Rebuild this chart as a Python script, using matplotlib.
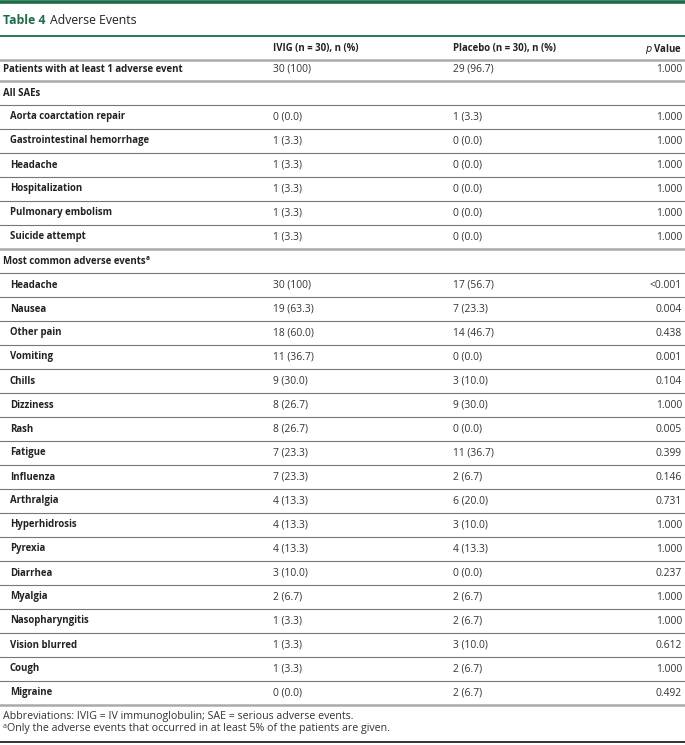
import matplotlib
matplotlib.use("Agg")
import matplotlib.pyplot as plt

plt.rcParams['font.family'] = ['Open Sans', 'DejaVu Sans']

# table contents
col_headers = ["IVIG (n = 30), n (%)", "Placebo (n = 30), n (%)"]
labels = ["Patients with at least 1 adverse event", "All SAEs",
          "Aorta coarctation repair", "Gastrointestinal hemorrhage", "Headache",
          "Hospitalization", "Pulmonary embolism", "Suicide attempt",
          "Most common adverse events",
          "Headache", "Nausea", "Other pain", "Vomiting", "Chills", "Dizziness",
          "Rash", "Fatigue", "Influenza", "Arthralgia", "Hyperhidrosis", "Pyrexia",
          "Diarrhea", "Myalgia", "Nasopharyngitis", "Vision blurred", "Cough",
          "Migraine"]
indent = [0, 0, 1, 1, 1, 1, 1, 1, 0] + [1] * 18
ivig = ["30 (100)", "", "0 (0.0)", "1 (3.3)", "1 (3.3)", "1 (3.3)", "1 (3.3)", "1 (3.3)", "",
        "30 (100)", "19 (63.3)", "18 (60.0)", "11 (36.7)", "9 (30.0)", "8 (26.7)",
        "8 (26.7)", "7 (23.3)", "7 (23.3)", "4 (13.3)", "4 (13.3)", "4 (13.3)",
        "3 (10.0)", "2 (6.7)", "1 (3.3)", "1 (3.3)", "1 (3.3)", "0 (0.0)"]
placebo = ["29 (96.7)", "", "1 (3.3)", "0 (0.0)", "0 (0.0)", "0 (0.0)", "0 (0.0)", "0 (0.0)", "",
           "17 (56.7)", "7 (23.3)", "14 (46.7)", "0 (0.0)", "3 (10.0)", "9 (30.0)",
           "0 (0.0)", "11 (36.7)", "2 (6.7)", "6 (20.0)", "3 (10.0)", "4 (13.3)",
           "0 (0.0)", "2 (6.7)", "2 (6.7)", "3 (10.0)", "2 (6.7)", "2 (6.7)"]
pvals = ["1.000", "", "1.000", "1.000", "1.000", "1.000", "1.000", "1.000", "",
         "<0.001", "0.004", "0.438", "0.001", "0.104", "1.000", "0.005", "0.399",
         "0.146", "0.731", "1.000", "1.000", "0.237", "1.000", "1.000", "0.612",
         "1.000", "0.492"]
footnotes = ["Abbreviations: IVIG = IV immunoglobulin; SAE = serious adverse events.",
             "Only the adverse events that occurred in at least 5% of the patients are given."]

green = "#1e6b4a"
W, H = 685, 745
fig = plt.figure(figsize=(W / 100, H / 100), dpi=100)
ax = fig.add_axes([0, 0, 1, 1])
ax.set_xlim(0, W)
ax.set_ylim(H, 0)
ax.axis("off")
renderer = fig.canvas.get_renderer()

def right_edge(t):
    # x (in data px) where a text object ends
    bb = t.get_window_extent(renderer=renderer)
    return bb.x1

fs = 7.4      # regular cells
fsb = 6.9     # bold labels
# top bar and title
ax.axhline(1.5, color=green, lw=2.6)
t = ax.text(3, 20, "Table 4", color=green, fontsize=8.8, fontweight="bold", va="center")
ax.text(right_edge(t) + 5, 20, "Adverse Events", color="#222222", fontsize=8.8, va="center")
ax.axhline(35.5, color=green, lw=1.3)

# header
ax.text(273, 49, col_headers[0], fontsize=fsb, fontweight="bold", va="center", color="#222")
ax.text(453, 49, col_headers[1], fontsize=fsb, fontweight="bold", va="center", color="#222")
ax.text(682, 49, "$\\it{p}$ Value", fontsize=fsb, fontweight="bold", va="center", ha="right", color="#222")
ax.axhline(59.5, color="#aaaaaa", lw=1.8)

row_h = 24
y0 = 69
thick_after = {0, 7, len(labels) - 1}
for i, lab in enumerate(labels):
    y = y0 + i * row_h
    x = 10 if indent[i] else 3
    t = ax.text(x, y, lab, fontsize=fsb, fontweight="bold", va="center", color="#222")
    if lab == "Most common adverse events":
        ax.text(right_edge(t) + 0.5, y - 3, "a", fontsize=4.8, fontweight="bold", va="center", color="#222")
    ax.text(273, y, ivig[i], fontsize=fs, va="center", color="#333")
    ax.text(453, y, placebo[i], fontsize=fs, va="center", color="#333")
    ax.text(682, y, pvals[i], fontsize=fs, va="center", ha="right", color="#333")
    yl = y + row_h / 2
    if i in thick_after:
        ax.axhline(yl, color="#aaaaaa", lw=1.8)
    else:
        ax.axhline(yl, color="#777777", lw=0.8)

# footnotes
ax.text(3, 717, footnotes[0], fontsize=7.7, va="center", color="#333")
ax.text(3, 727, "a", fontsize=5, va="center", color="#333")
ax.text(7.5, 729, footnotes[1], fontsize=7.7, va="center", color="#333")
ax.axhline(741.5, color="#222222", lw=1.3)

fig.savefig("out.png", dpi=100)
